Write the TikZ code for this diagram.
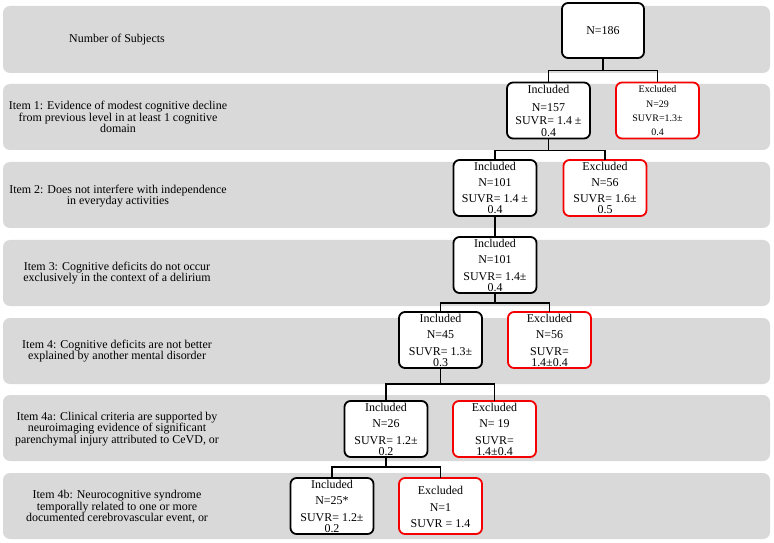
\documentclass[tikz,border=0pt]{standalone}
\usepackage{fontspec}
\setmainfont{Liberation Serif}
\definecolor{bandgray}{RGB}{217,217,217}
\definecolor{exred}{RGB}{245,0,0}
\begin{document}
\begin{tikzpicture}[x=1bp,y=-1bp,
 band/.style={fill=bandgray, rounded corners=7bp},
 incbox/.style={draw=black, line width=1.8bp, rounded corners=6bp, fill=white, minimum width=83bp, minimum height=56bp, inner sep=0pt, outer sep=0pt},
 excbox/.style={incbox, draw=exred},
 btxt/.style={align=center, inner sep=0pt, font=\fontsize{12}{12}\selectfont, anchor=north},
 stxt/.style={btxt, font=\fontsize{10}{14.5}\selectfont},
 lab/.style={align=center, inner sep=0pt, font=\fontsize{12}{11.8}\selectfont},
 conn/.style={line width=1.6bp}]
\useasboundingbox (0,0) rectangle (774,543);
% bands
\fill[band] (3,6) rectangle (770,73);
\fill[band] (3,84) rectangle (770,150);
\fill[band] (3,162) rectangle (770,228);
\fill[band] (3,240) rectangle (770,306);
\fill[band] (3,318) rectangle (770,384);
\fill[band] (3,395) rectangle (770,461);
\fill[band] (3,473) rectangle (770,539);
% labels
\node[lab] (l0) at (117,39.5) {Number of Subjects};
\node[lab] (l1) at (118,117) {Item 1: Evidence of modest cognitive decline\\from previous level in at least 1 cognitive\\domain};
\node[lab] (l2) at (118,196) {Item 2: Does not interfere with independence\\in everyday activities};
\node[lab] (l3) at (117,273) {Item 3: Cognitive deficits do not occur\\exclusively in the context of a delirium};
\node[lab] (l4) at (117,351) {Item 4: Cognitive deficits are not better\\explained by another mental disorder};
\node[lab] (l5) at (117,429) {Item 4a: Clinical criteria are supported by\\neuroimaging evidence of significant\\parenchymal injury attributed to CeVD, or};
\node[lab] (l6) at (117,507) {Item 4b: Neurocognitive syndrome\\temporally related to one or more\\documented cerebrovascular event, or};
% boxes
\node[incbox, minimum width=82bp, minimum height=55bp, font=\fontsize{12}{12}\selectfont] (b0) at (603,30.5) {N=186};
\node[incbox] (r1i) at (548.5,110.5) {};
\node[excbox] (r1e) at (657.5,110.5) {};
\node[incbox] (r2i) at (495,188) {};
\node[excbox] (r2e) at (605,188) {};
\node[incbox] (r3i) at (495,265) {};
\node[incbox] (r4i) at (440.5,340) {};
\node[excbox] (r4e) at (549.5,340) {};
\node[incbox] (r5i) at (386,429) {};
\node[excbox] (r5e) at (494.5,429) {};
\node[incbox] (r6i) at (332,506) {};
\node[excbox] (r6e) at (440.5,506) {};
% box texts
\node[btxt] (r1it) at ([yshift=-3bp]r1i.north) {Included\\[5.5bp]N=157\\[1bp]SUVR= 1.4 ±\\0.4};
\node[stxt] (r1et) at ([yshift=-3bp]r1e.north) {Excluded\\N=29\\SUVR=1.3±\\0.4};
\node[btxt] (r2it) at ([yshift=-2bp]r2i.north) {Included\\[4bp]N=101\\[4bp]SUVR= 1.4 ±\\[-1bp]0.4};
\node[btxt] (r2et) at ([yshift=-2bp]r2e.north) {Excluded\\[4bp]N=56\\[4bp]SUVR= 1.6±\\[-1bp]0.5};
\node[btxt] (r3it) at ([yshift=-2bp]r3i.north) {Included\\[4bp]N=101\\[5bp]SUVR= 1.4±\\[-1bp]0.4};
\node[btxt] (r4it) at ([yshift=-2bp]r4i.north) {Included\\[4bp]N=45\\[5bp]SUVR= 1.3±\\[-1bp]0.3};
\node[btxt] (r4et) at ([yshift=-2bp]r4e.north) {Excluded\\[4bp]N=56\\[5bp]SUVR=\\[-1bp]1.4±0.4};
\node[btxt] (r5it) at ([yshift=-2bp]r5i.north) {Included\\[4bp]N=26\\[5bp]SUVR= 1.2±\\[-1bp]0.2};
\node[btxt] (r5et) at ([yshift=-2bp]r5e.north) {Excluded\\[4bp]N= 19\\[5bp]SUVR=\\[-1bp]1.4±0.4};
\node[btxt] (r6it) at ([yshift=-2bp]r6i.north) {Included\\[4bp]N=25*\\[5bp]SUVR= 1.2±\\[-1bp]0.2};
\node[btxt] (r6et) at ([yshift=-8bp]r6e.north) {Excluded\\[5bp]N=1\\[4bp]SUVR = 1.4};
% connectors
\draw[conn] (b0.south) -- ++(0,12.5) coordinate (f0);
\draw[conn] (r1i.north) |- (f0) -| (r1e.north);
\draw[conn] (r1i.south) -- ++(0,12) coordinate (f1);
\draw[conn] (r2i.north) |- (f1) -| (r2e.north);
\draw[conn] (r2i.south) -- (r3i.north);
\draw[conn] (r3i.south) -- ++(0,10) coordinate (f3);
\draw[conn] (r4i.north) |- (f3) -| (r4e.north);
\draw[conn] (r4i.south) -- ++(0,16) coordinate (f4);
\draw[conn] (r5i.north) |- (f4) -| (r5e.north);
\draw[conn] (r5i.south) -- ++(0,10) coordinate (f5);
\draw[conn] (r6i.north) |- (f5) -| (r6e.north);
\end{tikzpicture}
\end{document}
